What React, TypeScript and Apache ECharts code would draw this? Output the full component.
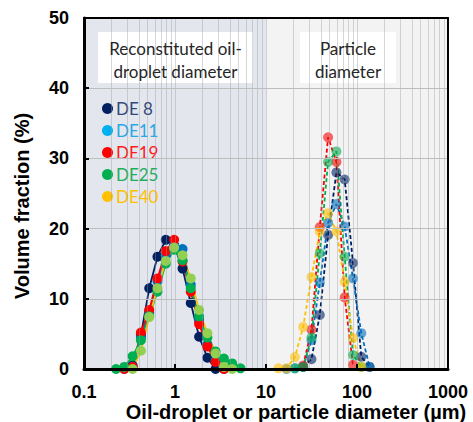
import React, { useEffect, useRef } from "react";
import * as echarts from "echarts";

const NAMES = ["DE 8", "DE11", "DE19", "DE25", "DE40"];
const COLORS = ["#002060", "#0070c0", "#ff0000", "#00b050", "#ffc000"];
const LEGEND_COLORS = ["#002060", "#00b0f0", "#ff0000", "#00b050", "#ffc000"];
const LEGEND_TEXT = ["#33477a", "#2aa8e6", "#ff1a1a", "#1fae5c", "#ffc000"];
const LEFT_MARKER_COLORS = ["#002060", "#0070c0", "#ff0000", "#00b050", "#92d050"];

// Reconstituted oil-droplet diameter bins (µm)
const LEFT_BINS = [0.225, 0.277, 0.342, 0.422, 0.521, 0.642, 0.792, 0.978, 1.21, 1.49, 1.84, 2.27, 2.79, 3.45, 4.25, 5.24];
const LEFT_DE8 = [null, null, 0.5, 4.8, 11.5, 16.0, 18.4, 17.6, 14.3, 9.4, 4.6, 1.6, 0, null, null, null];
const LEFT_DE11 = [null, 0, 0.3, 4.5, 8.0, 12.5, 16.2, 17.6, 17.1, 12.0, 7.0, 3.5, 1.2, 0, null, null];
const LEFT_DE19 = [null, 0, 0.3, 5.2, 8.4, 12.9, 16.8, 18.4, 15.3, 11.0, 6.4, 3.2, 1.0, 0, null, null];
const LEFT_DE25 = [0, 0.3, 1.8, 4.1, 7.5, 11.0, 15.0, 17.0, 15.5, 11.5, 7.5, 4.5, 2.5, 1.5, 0.8, 0.1];
const LEFT_DE40 = [null, null, 0, 2.6, 7.4, 11.5, 15.4, 17.3, 16.2, 12.9, 8.4, 5.1, 2.2, 0.3, 0, null];

// Particle diameter bins (µm)
const RIGHT_BINS = [13.7, 16.8, 20.8, 25.6, 31.6, 39.0, 48.1, 59.4, 73.2, 90.4, 111.5, 137.5];
const RIGHT_DE8 = [null, null, null, 0.3, 1.4, 7.7, 19.1, 28.0, 27.0, 15.1, 1.75, 0.3];
const RIGHT_DE11 = [null, 0, 0.1, 0.3, 4.1, 12.3, 20.8, 23.5, 20.3, 12.9, 5.1, 0.3];
const RIGHT_DE19 = [null, null, null, 0.5, 5.6, 20.2, 33.0, 29.5, 10.2, 0.6, null, null];
const RIGHT_DE25 = [null, null, 0.1, 0.3, 4.5, 16.5, 29.5, 31.0, 16.0, 2.0, 0.3, null];
const RIGHT_DE40 = [0.1, 0.1, 1.7, 6.0, 13.1, 19.6, 22.2, 19.6, 12.4, 4.4, 0.3, null];

const LEFT_VALUES = [LEFT_DE8, LEFT_DE11, LEFT_DE19, LEFT_DE25, LEFT_DE40];
const RIGHT_VALUES = [RIGHT_DE8, RIGHT_DE11, RIGHT_DE19, RIGHT_DE25, RIGHT_DE40];

const X_LABELS = ["0.1", "1", "10", "100", "1000"];
const Y_GRID = [10, 20, 30, 40];

function pairs(bins: number[], vals: (number | null)[]) {
  const out: number[][] = [];
  bins.forEach((x, i) => {
    const v = vals[i];
    if (v !== null && v !== undefined) out.push([x, v]);
  });
  return out;
}

export default function App() {
  const ref = useRef<HTMLDivElement>(null);
  useEffect(() => {
    if (!ref.current) return;
    const chart = echarts.init(ref.current, undefined, { renderer: "svg" });

    const vGrid: any[] = [];
    [0.1, 1, 10, 100].forEach((d) => {
      for (let k = 1; k <= 9; k++) {
        const v = d * k;
        if (v > 0.1 && v < 1000) vGrid.push({ xAxis: v });
      }
    });

    const axisFont = "Liberation Sans, Arial, sans-serif";
    const series: any[] = [
      {
        type: "line",
        name: "bg",
        data: [],
        z: 1,
        silent: true,
        markArea: {
          silent: true,
          label: { show: false },
          data: [
            [{ xAxis: 0.1, itemStyle: { color: "#e3e7ed" } }, { xAxis: 10 }],
            [{ xAxis: 10, itemStyle: { color: "#f3f3f3" } }, { xAxis: 1000 }],
          ],
        },
      },
      {
        type: "line",
        name: "grid",
        data: [],
        z: 1.5,
        silent: true,
        markLine: {
          silent: true,
          symbol: ["none", "none"],
          label: { show: false },
          lineStyle: { color: "rgba(150,155,165,0.4)", width: 1, type: "solid" },
          data: vGrid,
        },
      },
      {
        type: "line",
        name: "hgrid",
        data: [],
        z: 1.6,
        silent: true,
        markLine: {
          silent: true,
          symbol: ["none", "none"],
          label: { show: false },
          lineStyle: { color: "#bdbdbd", width: 1, type: "solid" },
          data: Y_GRID.map((y) => ({ yAxis: y })),
        },
      },
    ];

    NAMES.forEach((n, i) => {
      series.push({
        type: "line",
        name: n + " particle",
        data: pairs(RIGHT_BINS, RIGHT_VALUES[i]),
        z: 3,
        symbol: "circle",
        symbolSize: 10,
        lineStyle: { color: COLORS[i], width: 1.8, type: [4, 2.5] },
        itemStyle: { color: COLORS[i], opacity: 0.6 },
      });
    });
    NAMES.forEach((n, i) => {
      series.push({
        type: "line",
        name: n,
        data: pairs(LEFT_BINS, LEFT_VALUES[i]),
        z: 4,
        symbol: "circle",
        symbolSize: 10,
        lineStyle: { color: COLORS[i], width: 1.8 },
        itemStyle: { color: LEFT_MARKER_COLORS[i] },
      });
    });

    chart.setOption({
      animation: false,
      grid: { left: 84, right: 25, top: 18, bottom: 53 },
      legend: {
        orient: "vertical",
        left: 97,
        top: 95,
        itemWidth: 11,
        itemHeight: 11,
        itemGap: 5,
        icon: "circle",
        selectedMode: false,
        textStyle: { fontFamily: "Lato", fontSize: 17, lineHeight: 14, padding: [0, 0, 0, -2] },
        data: NAMES.map((n, i) => ({
          name: n,
          icon: "circle",
          itemStyle: { color: LEGEND_COLORS[i] },
          textStyle: { color: LEGEND_TEXT[i] },
        })),
      },
      xAxis: [
        {
          type: "log",
          logBase: 10,
          min: 0.1,
          max: 1000,
          z: 10,
          axisLine: { onZero: false, lineStyle: { color: "#000", width: 3 } },
          axisTick: { inside: true, length: 5, lineStyle: { color: "#000", width: 2 } },
          axisLabel: {
            color: "#000",
            fontSize: 18,
            fontWeight: "bold",
            fontFamily: axisFont,
            margin: 14,
            formatter: (v: number) => {
              const idx = Math.round(Math.log10(v)) + 1;
              return X_LABELS[idx] ?? String(v);
            },
          },
          splitLine: { show: false },
        },
        {
          type: "log",
          logBase: 10,
          min: 0.1,
          max: 1000,
          position: "top",
          z: 10,
          axisLine: { onZero: false, lineStyle: { color: "#000", width: 2 } },
          axisTick: { show: false },
          axisLabel: { show: false },
          splitLine: { show: false },
        },
      ],
      yAxis: [
        {
          type: "value",
          min: 0,
          max: 50,
          interval: 10,
          z: 10,
          axisLine: { show: true, onZero: false, lineStyle: { color: "#000", width: 3 } },
          axisTick: { show: true, inside: true, length: 5, lineStyle: { color: "#000", width: 2 } },
          axisLabel: {
            color: "#000",
            fontSize: 18,
            fontWeight: "bold",
            fontFamily: axisFont,
            margin: 15,
          },
          splitLine: { show: false },
        },
        {
          type: "value",
          min: 0,
          max: 50,
          interval: 10,
          position: "right",
          z: 10,
          axisLine: { show: true, onZero: false, lineStyle: { color: "#000", width: 2 } },
          axisTick: { show: false },
          axisLabel: { show: false },
          splitLine: { show: false },
        },
      ],
      graphic: [
        { type: "rect", z: 5, shape: { x: 98, y: 32, width: 155, height: 51 }, style: { fill: "#ffffff" } },
        {
          type: "text", z: 6, x: 175.5, y: 48,
          style: { text: "Reconstituted oil-", font: "17px Lato", fill: "#262626", align: "center", verticalAlign: "middle", textAlign: "center", textVerticalAlign: "middle" },
        },
        {
          type: "text", z: 6, x: 175.5, y: 71,
          style: { text: "droplet diameter", font: "17px Lato", fill: "#262626", align: "center", verticalAlign: "middle", textAlign: "center", textVerticalAlign: "middle" },
        },
        { type: "rect", z: 5, shape: { x: 300, y: 32, width: 96, height: 51 }, style: { fill: "#ffffff" } },
        {
          type: "text", z: 6, x: 348, y: 48,
          style: { text: "Particle", font: "17px Lato", fill: "#262626", align: "center", verticalAlign: "middle", textAlign: "center", textVerticalAlign: "middle" },
        },
        {
          type: "text", z: 6, x: 348, y: 71,
          style: { text: "diameter", font: "17px Lato", fill: "#262626", align: "center", verticalAlign: "middle", textAlign: "center", textVerticalAlign: "middle" },
        },
        {
          type: "text", z: 6, x: 296, y: 412,
          style: { text: "Oil-droplet or particle diameter (µm)", font: "bold 20px Liberation Sans, Arial, sans-serif", fill: "#000", align: "center", verticalAlign: "middle", textAlign: "center", textVerticalAlign: "middle" },
        },
        {
          type: "text", z: 6, x: 22, y: 206, rotation: Math.PI / 2,
          style: { text: "Volume fraction (%)", font: "bold 20px Liberation Sans, Arial, sans-serif", fill: "#000", align: "center", verticalAlign: "middle", textAlign: "center", textVerticalAlign: "middle" },
        },
      ],
      series,
    });

    return () => chart.dispose();
  }, []);

  return (
    <div
      ref={ref}
      style={{ position: "fixed", left: 0, top: 0, width: 473, height: 422, background: "#ffffff" }}
    />
  );
}
